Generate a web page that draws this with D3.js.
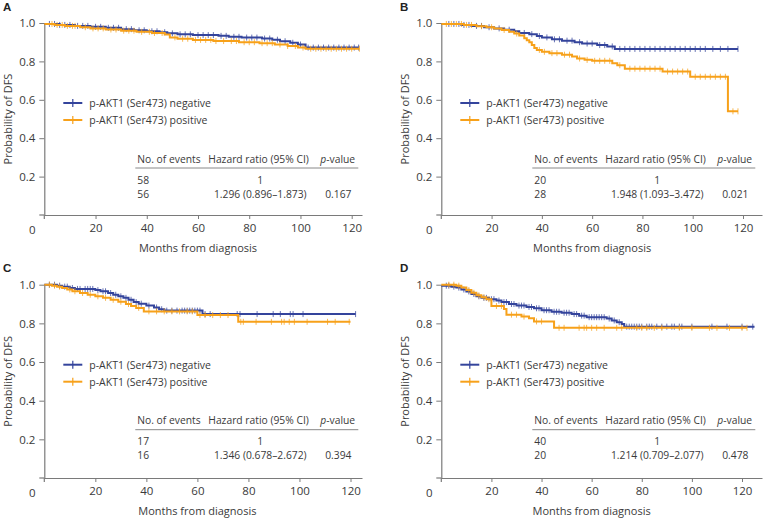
<!DOCTYPE html>
<html><head><meta charset="utf-8">
<script src="https://cdn.jsdelivr.net/npm/d3@7"></script>
<style>
body{margin:0;background:#fff;}
svg{display:block;font-family:"Open Sans",sans-serif;}
</style></head>
<body><svg id="c" width="764" height="518"></svg>
<script>
// ---------- DATA ----------
const panelLabels = ["A","B","C","D"];
const legendLabels = ["p-AKT1 (Ser473) negative","p-AKT1 (Ser473) positive"];
const tableHeader = ["No. of events","Hazard ratio (95% CI)","-value"];
const events = [["58","56"],["20","28"],["17","16"],["40","20"]];
const hazard = [["1","1.296 (0.896\u20131.873)"],["1","1.948 (1.093\u20133.472)"],["1","1.346 (0.678\u20132.672)"],["1","1.214 (0.709\u20132.077)"]];
const pvalues = [["","0.167"],["","0.021"],["","0.394"],["","0.478"]];
const xTicks = [20,40,60,80,100,120];
const yTicks = [0.2,0.4,0.6,0.8,1.0];

// step curves: [time, survival after step]
const A_neg = [[0,0.995],[6,0.99],[12,0.985],[18,0.98],[24,0.975],[30,0.968],[35,0.962],[40,0.957],[45,0.952],[48,0.946],[52,0.941],[58,0.937],[68,0.933],[72,0.928],[77,0.924],[85,0.919],[89,0.913],[92,0.905],[96,0.897],[99,0.888],[102,0.872]];
const A_pos = [[0,0.995],[4,0.99],[8,0.985],[14,0.978],[18,0.972],[24,0.966],[30,0.96],[36,0.954],[42,0.948],[47,0.94],[49,0.925],[52,0.918],[58,0.912],[66,0.906],[76,0.9],[84,0.895],[90,0.888],[95,0.88],[99,0.872],[102,0.866]];
const B_neg = [[0,0.995],[8,0.99],[12,0.985],[17,0.978],[21,0.972],[25,0.965],[29,0.957],[31,0.948],[35,0.942],[38,0.932],[40,0.925],[44,0.915],[48,0.908],[53,0.9],[56,0.893],[62,0.885],[66,0.878],[69,0.865]];
const B_pos = [[0,0.995],[9,0.99],[14,0.983],[18,0.978],[21,0.972],[24,0.964],[27,0.955],[29,0.945],[31,0.935],[33,0.92],[34,0.91],[35,0.9],[36,0.885],[37,0.87],[38,0.86],[40,0.85],[43,0.843],[48,0.835],[52,0.825],[54,0.815],[57,0.808],[60,0.803],[68,0.79],[70,0.78],[73,0.762],[88,0.747],[99,0.72],[114,0.54]];
const C_neg = [[0,1.0],[5,0.995],[7,0.99],[10,0.983],[12,0.978],[20,0.972],[22,0.966],[25,0.957],[27,0.948],[29,0.94],[31,0.932],[33,0.922],[35,0.91],[37,0.902],[40,0.892],[43,0.882],[45,0.873],[47,0.866],[62,0.848]];
const C_pos = [[0,1.0],[3,0.995],[5,0.99],[7,0.983],[9,0.975],[11,0.966],[14,0.957],[17,0.948],[20,0.94],[23,0.932],[26,0.922],[29,0.912],[32,0.9],[34,0.89],[36,0.88],[39,0.862],[60,0.843],[76,0.808]];
const D_neg = [[0,0.995],[4,0.99],[6,0.985],[8,0.975],[10,0.965],[12,0.952],[14,0.94],[16,0.932],[19,0.925],[22,0.918],[24,0.91],[27,0.9],[30,0.892],[34,0.885],[37,0.878],[40,0.868],[44,0.86],[48,0.855],[52,0.848],[55,0.84],[58,0.832],[66,0.825],[68,0.815],[70,0.806],[72,0.797],[73,0.783]];
const D_pos = [[0,1.0],[6,0.995],[8,0.985],[10,0.972],[12,0.958],[14,0.945],[16,0.935],[18,0.925],[20,0.89],[25,0.874],[26,0.845],[32,0.835],[35,0.826],[37,0.81],[45,0.777]];
const endTimes = [[122.7,123],[118,118],[122,120],[125,122]];

// censor times
const A_negC = [2,4,6,8,10,13,15,17,20,22,25,27,29,32,34,37,39,42,44,47,50,53,55,57,60,62,64,66,69,71,74,76,79,81,83,86,88,91,94,97,100,103,105,107,109,111,113,115,117,119,121,122.7];
const A_posC = [3,5,7,9,11,12,16,19,21,23,26,28,31,33,35,38,41,43,46,51,54,56,59,61,63,65,67,70,73,75,78,80,82,85,87,89,92,95,98,101,104,106,108,110,112,114,116,118,120,123];
const B_negC = [3,5,7,9,11,14,16,19,23,27,33,36,39,42,45,47,50,52,55,58,60,63,65,68,71,73,75,77,79,81,83,85,87,89,91,93,95,97,99,101,103,105,108,111,114,118];
const B_posC = [2,4,6,8,10,12,16,20,25,30,39,41,44,46,49,51,55,58,61,63,65,67,71,75,77,79,81,83,85,87,90,92,94,96,98,101,103,105,107,109,111,113,116,118];
const C_negC = [2,4,6,8,9,11,13,14,16,17,18,19,21,23,24,26,28,30,32,34,36,38,41,44,46,48,50,52,54,55,56,57,58,59,60,61,63,65,75.6,76.7,83.4,89.7,92.5,96.4,97.5,101.4,122];
const C_posC = [2,4,6,10,12,15,18,21,24,27,30,33,37,41,44,47,50,53,56,58,61,63,66,69,72,77,78,83,89,93,94,96,98,103,111,114,119.5];
const D_negC = [2,3,5,7,9,11,13,15,17,18,20,21,23,25,26,28,29,31,32,33,35,36,38,39,41,42,43,45,46,47,49,50,51,53,54,56,57,59,60,61,62,63,64,65,67,69,71,74,75,76,77,78,79,80,82,83,84,86,88,90,92,93,95,96,100,108,114,120,124.3];
const D_posC = [3,5,7,11,13,15,17,19,22,24,28,30,33,38,40,47,49,55,57,58,60,62,65,70,72,78,80,82,85,88,95,100,107,110,115,120,122];

const curves = [[A_neg,A_pos],[B_neg,B_pos],[C_neg,C_pos],[D_neg,D_pos]];
const censors = [[A_negC,A_posC],[B_negC,B_posC],[C_negC,C_posC],[D_negC,D_posC]];
const colors = ["#34449c","#f7a11a"];

// ---------- LAYOUT ----------
const panels = [
  {x0:44.3, x120:351.7, xEnd:362, y1:23, y0:215, lx:3, ly:11},
  {x0:441.3, x120:743, xEnd:762, y1:23, y0:215, lx:400, ly:11},
  {x0:44.3, x120:350.5, xEnd:362, y1:284.7, y0:478, lx:3, ly:272},
  {x0:441.3, x120:742, xEnd:762, y1:284.7, y0:478, lx:400, ly:272}
];
const svg = d3.select("#c");
const axisCol = "#7a7a7a", textCol = "#3a3a3a";

function survAt(steps, t){
  let v = steps[0][1];
  for (const s of steps){ if (s[0] <= t) v = s[1]; else break; }
  return v;
}

panels.forEach((p,i)=>{
  const g = svg.append("g");
  const x = d3.scaleLinear().domain([0,120]).range([p.x0,p.x120]);
  const xMax = x.invert(p.xEnd);
  const xa = d3.scaleLinear().domain([0,xMax]).range([p.x0,p.xEnd]);
  const y = d3.scaleLinear().domain([0,1]).range([p.y0,p.y1]);

  // panel label
  g.append("text").attr("x",p.lx).attr("y",p.ly).text(panelLabels[i])
    .attr("font-size",11.5).attr("font-weight","bold").attr("fill","#222")
    .attr("font-family","Liberation Sans, Arial, sans-serif");

  // x axis
  const gx = g.append("g").attr("transform",`translate(0,${p.y0})`)
    .call(d3.axisBottom(xa).tickValues(xTicks).tickSize(4).tickSizeOuter(0).tickPadding(5));
  gx.select(".domain").attr("stroke",axisCol).attr("stroke-width",1.2);
  gx.selectAll(".tick line").attr("stroke",axisCol);
  gx.selectAll(".tick text").attr("fill",textCol).attr("font-size",11.5).attr("font-family","Open Sans, sans-serif");
  g.append("line").attr("x1",p.x0-5).attr("x2",p.x0).attr("y1",p.y0).attr("y2",p.y0).attr("stroke",axisCol).attr("stroke-width",1.2);
  g.append("text").attr("x",p.x0-12).attr("y",p.y0+19).attr("text-anchor","middle").text("0")
    .attr("fill",textCol).attr("font-size",11.5);

  // y axis
  const gy = g.append("g").attr("transform",`translate(${p.x0},0)`)
    .call(d3.axisLeft(y).tickValues(yTicks).tickFormat(d3.format(".1f")).tickSize(5).tickSizeOuter(0).tickPadding(4));
  gy.select(".domain").attr("stroke",axisCol).attr("stroke-width",1.2);
  gy.selectAll(".tick line").attr("stroke",axisCol);
  gy.selectAll(".tick text").attr("fill",textCol).attr("font-size",11.5).attr("font-family","Open Sans, sans-serif");
  g.append("line").attr("x1",p.x0).attr("x2",p.x0).attr("y1",p.y0).attr("y2",p.y0+4).attr("stroke",axisCol).attr("stroke-width",1.2);

  // axis titles
  g.append("text").attr("x",(p.x0+p.x120)/2).attr("y",p.y0+37).attr("text-anchor","middle")
    .text("Months from diagnosis").attr("fill",textCol).attr("font-size",11);
  g.append("text").attr("transform",`translate(${p.x0-32},${(p.y0+p.y1)/2}) rotate(-90)`)
    .attr("text-anchor","middle").text("Probability of DFS").attr("fill",textCol).attr("font-size",11);

  // curves
  curves[i].forEach((steps,k)=>{
    const pts = steps.concat([[endTimes[i][k], steps[steps.length-1][1]]]);
    const line = d3.line().x(d=>x(d[0])).y(d=>y(d[1])).curve(d3.curveStepAfter);
    g.append("path").attr("d",line(pts)).attr("fill","none").attr("stroke",colors[k]).attr("stroke-width",2);
    g.selectAll(null).data(censors[i][k]).enter().append("line")
      .attr("x1",d=>x(d)).attr("x2",d=>x(d))
      .attr("y1",d=>y(survAt(steps,d))-3).attr("y2",d=>y(survAt(steps,d))+3)
      .attr("stroke",colors[k]).attr("stroke-width",1).attr("opacity",0.75);
  });

  // legend
  legendLabels.forEach((lab,k)=>{
    const ly = p.y1+80+k*17;
    g.append("line").attr("x1",p.x0+19).attr("x2",p.x0+38).attr("y1",ly).attr("y2",ly).attr("stroke",colors[k]).attr("stroke-width",2);
    g.append("line").attr("x1",p.x0+28.5).attr("x2",p.x0+28.5).attr("y1",ly-4).attr("y2",ly+4).attr("stroke",colors[k]).attr("stroke-width",1.2);
    g.append("text").attr("x",p.x0+45).attr("y",ly+3.8).text(lab).attr("fill",textCol).attr("font-size",10.5);
  });

  // table
  const ty = p.y1+136;
  const fs = 10.3;
  g.append("text").attr("x",p.x0+93).attr("y",ty+3.7).text(tableHeader[0]).attr("fill",textCol).attr("font-size",fs);
  g.append("text").attr("x",p.x0+164).attr("y",ty+3.7).text(tableHeader[1]).attr("fill",textCol).attr("font-size",fs);
  const pt = g.append("text").attr("x",p.x0+276).attr("y",ty+3.7).attr("fill",textCol).attr("font-size",fs);
  pt.append("tspan").attr("font-style","italic").text("p");
  pt.append("tspan").text(tableHeader[2]);
  g.append("line").attr("x1",p.x0+91).attr("x2",p.x0+314).attr("y1",ty+9).attr("y2",ty+9).attr("stroke","#888").attr("stroke-width",1);
  [0,1].forEach(r=>{
    const ry = p.y1+157+r*14+3.7;
    g.append("text").attr("x",p.x0+93).attr("y",ry).text(events[i][r]).attr("fill",textCol).attr("font-size",fs);
    g.append("text").attr("x",p.x0+216).attr("y",ry).attr("text-anchor","middle").text(hazard[i][r]).attr("fill",textCol).attr("font-size",fs);
    g.append("text").attr("x",p.x0+294).attr("y",ry).attr("text-anchor","middle").text(pvalues[i][r]).attr("fill",textCol).attr("font-size",fs);
  });
});
</script></body></html>
